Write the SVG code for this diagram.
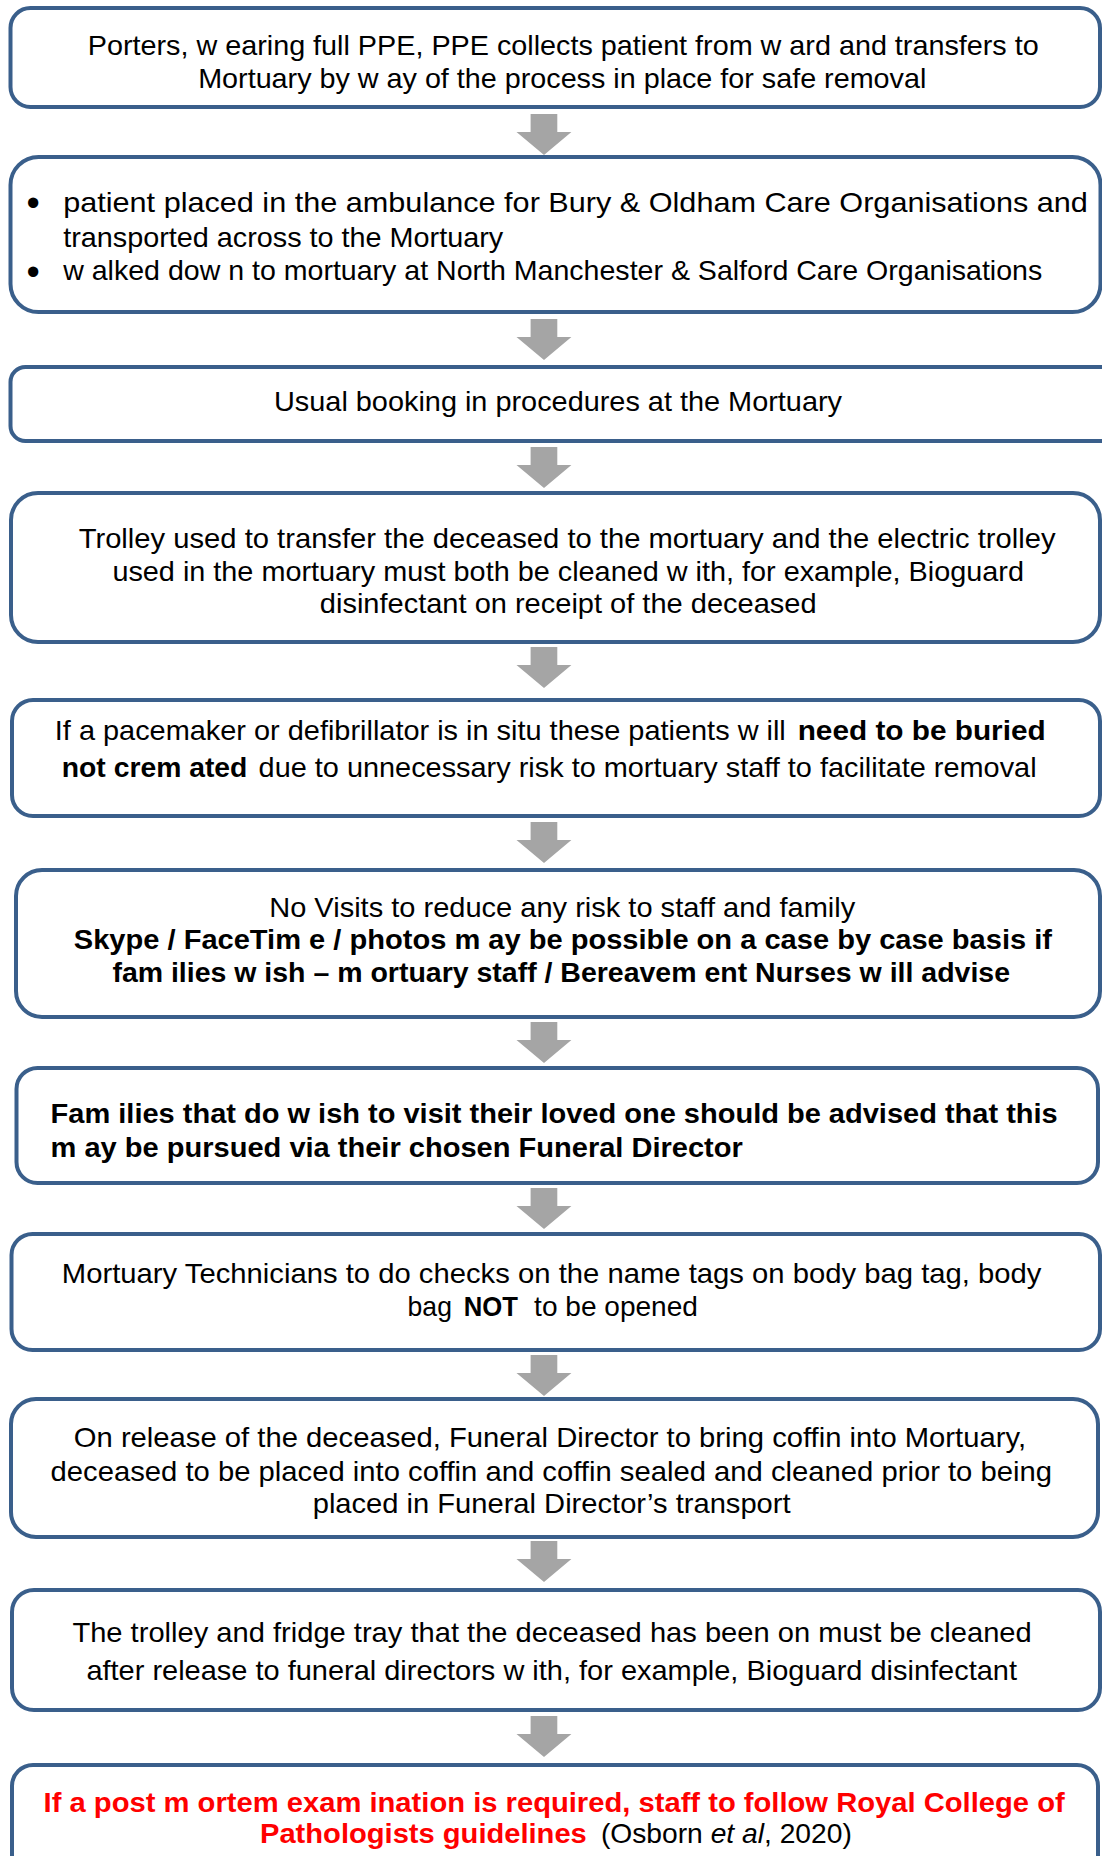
<svg xmlns="http://www.w3.org/2000/svg" xmlns:xlink="http://www.w3.org/1999/xlink" width="1102" height="1856" viewBox="0 0 1102 1856">
<style>
.box{fill:#ffffff;stroke:#3A5F8B;stroke-width:4}
.t{font-family:"Liberation Sans",Arial,sans-serif;font-size:28px;fill:#000000}
.b{font-weight:bold}
.r{fill:#FF0000}
.arr{fill:#A5A5A5}
.bul{font-family:"Liberation Sans",Arial,sans-serif;font-size:38px;fill:#000000}
</style>
<defs>
<path id="arr" class="arr" d="M530.6,0 H557.3 V18 H571.4 L544,41 L516.5,18 H530.6 Z"/>
</defs>
<rect width="1102" height="1856" fill="#ffffff"/>
<g id="connectors">
<use xlink:href="#arr" y="114"/>
<use xlink:href="#arr" y="319"/>
<use xlink:href="#arr" y="447"/>
<use xlink:href="#arr" y="647"/>
<use xlink:href="#arr" y="822"/>
<use xlink:href="#arr" y="1022"/>
<use xlink:href="#arr" y="1188"/>
<use xlink:href="#arr" y="1355"/>
<use xlink:href="#arr" y="1541"/>
<use xlink:href="#arr" y="1716"/>
</g>
<g id="node1">
<rect class="box" x="10.5" y="8" width="1089.5" height="99" rx="20"/>
<text class="t" x="87.8" y="55" textLength="950.9" lengthAdjust="spacingAndGlyphs">Porters, w earing full PPE, PPE collects patient from w ard and transfers to</text>
<text class="t" x="198.2" y="88" textLength="728.1" lengthAdjust="spacingAndGlyphs">Mortuary by w ay of the process in place for safe removal</text>
</g>
<g id="node2">
<rect class="box" x="10.5" y="157" width="1090" height="155" rx="28"/>
<text class="bul" x="26.5" y="216">•</text>
<text class="bul" x="26.5" y="285">•</text>
<text class="t" x="63.2" y="212" textLength="1024.7" lengthAdjust="spacingAndGlyphs">patient placed in the ambulance for Bury &amp; Oldham Care Organisations and</text>
<text class="t" x="63.2" y="247" textLength="440" lengthAdjust="spacingAndGlyphs">transported across to the Mortuary</text>
<text class="t" x="63.2" y="280" textLength="979" lengthAdjust="spacingAndGlyphs">w alked dow n to mortuary at North Manchester &amp; Salford Care Organisations</text>
</g>
<g id="node3">
<rect class="box" x="10.5" y="367" width="1115" height="74" rx="15"/>
<text class="t" x="274" y="411" textLength="568" lengthAdjust="spacingAndGlyphs">Usual booking in procedures at the Mortuary</text>
</g>
<g id="node4">
<rect class="box" x="11" y="493" width="1089" height="149" rx="27"/>
<text class="t" x="78.7" y="548" textLength="976.9" lengthAdjust="spacingAndGlyphs">Trolley used to transfer the deceased to the mortuary and the electric trolley</text>
<text class="t" x="112.4" y="581" textLength="911.6" lengthAdjust="spacingAndGlyphs">used in the mortuary must both be cleaned w ith, for example, Bioguard</text>
<text class="t" x="319.8" y="613" textLength="496.8" lengthAdjust="spacingAndGlyphs">disinfectant on receipt of the deceased</text>
</g>
<g id="node5">
<rect class="box" x="12" y="700" width="1088" height="116" rx="21"/>
<text class="t" x="54.8" y="740" textLength="731" lengthAdjust="spacingAndGlyphs">If a pacemaker or defibrillator is in situ these patients w ill</text>
<text class="t b" x="797.7" y="740" textLength="248" lengthAdjust="spacingAndGlyphs">need to be buried</text>
<text class="t b" x="61.8" y="777" textLength="185.6" lengthAdjust="spacingAndGlyphs">not crem ated</text>
<text class="t" x="258.6" y="777" textLength="778" lengthAdjust="spacingAndGlyphs">due to unnecessary risk to mortuary staff to facilitate removal</text>
</g>
<g id="node6">
<rect class="box" x="16" y="870" width="1084" height="147" rx="26"/>
<text class="t" x="269.2" y="917" textLength="586.1" lengthAdjust="spacingAndGlyphs">No Visits to reduce any risk to staff and family</text>
<text class="t b" x="73.8" y="949" textLength="978.2" lengthAdjust="spacingAndGlyphs">Skype / FaceTim e / photos m ay be possible on a case by case basis if</text>
<text class="t b" x="112.4" y="982" textLength="897.6" lengthAdjust="spacingAndGlyphs">fam ilies w ish – m ortuary staff / Bereavem ent Nurses w ill advise</text>
</g>
<g id="node7">
<rect class="box" x="16.5" y="1068" width="1081.5" height="115" rx="21"/>
<text class="t b" x="50.6" y="1123" textLength="1007.1" lengthAdjust="spacingAndGlyphs">Fam ilies that do w ish to visit their loved one should be advised that this</text>
<text class="t b" x="50.6" y="1157" textLength="692.2" lengthAdjust="spacingAndGlyphs">m ay be pursued via their chosen Funeral Director</text>
</g>
<g id="node8">
<rect class="box" x="11.5" y="1234" width="1088.5" height="116" rx="21"/>
<text class="t" x="61.8" y="1283" textLength="979.7" lengthAdjust="spacingAndGlyphs">Mortuary Technicians to do checks on the name tags on body bag tag, body</text>
<text class="t" x="407.6" y="1316" textLength="44.3" lengthAdjust="spacingAndGlyphs">bag</text>
<text class="t b" x="463.8" y="1316" textLength="54.2" lengthAdjust="spacingAndGlyphs">NOT</text>
<text class="t" x="534.1" y="1316" textLength="163.8" lengthAdjust="spacingAndGlyphs">to be opened</text>
</g>
<g id="node9">
<rect class="box" x="11" y="1399" width="1087" height="138" rx="25"/>
<text class="t" x="73.8" y="1447" textLength="952.2" lengthAdjust="spacingAndGlyphs">On release of the deceased, Funeral Director to bring coffin into Mortuary,</text>
<text class="t" x="50.6" y="1481" textLength="1001.4" lengthAdjust="spacingAndGlyphs">deceased to be placed into coffin and coffin sealed and cleaned prior to being</text>
<text class="t" x="312.7" y="1513" textLength="477.9" lengthAdjust="spacingAndGlyphs">placed in Funeral Director’s transport</text>
</g>
<g id="node10">
<rect class="box" x="12" y="1590" width="1088" height="120" rx="22"/>
<text class="t" x="72.4" y="1642" textLength="959.3" lengthAdjust="spacingAndGlyphs">The trolley and fridge tray that the deceased has been on must be cleaned</text>
<text class="t" x="86.4" y="1680" textLength="930.6" lengthAdjust="spacingAndGlyphs">after release to funeral directors w ith, for example, Bioguard disinfectant</text>
</g>
<g id="node11">
<rect class="box" x="12" y="1765" width="1086" height="130" rx="21"/>
<text class="t b r" x="43.6" y="1812" textLength="1021.1" lengthAdjust="spacingAndGlyphs">If a post m ortem exam ination is required, staff to follow Royal College of</text>
<text class="t b r" x="260" y="1843" textLength="326.8" lengthAdjust="spacingAndGlyphs">Pathologists guidelines</text>
<text class="t" x="600.9" y="1843" textLength="250.9" lengthAdjust="spacingAndGlyphs">(Osborn <tspan font-style="italic">et al</tspan>, 2020)</text>
</g>
</svg>
